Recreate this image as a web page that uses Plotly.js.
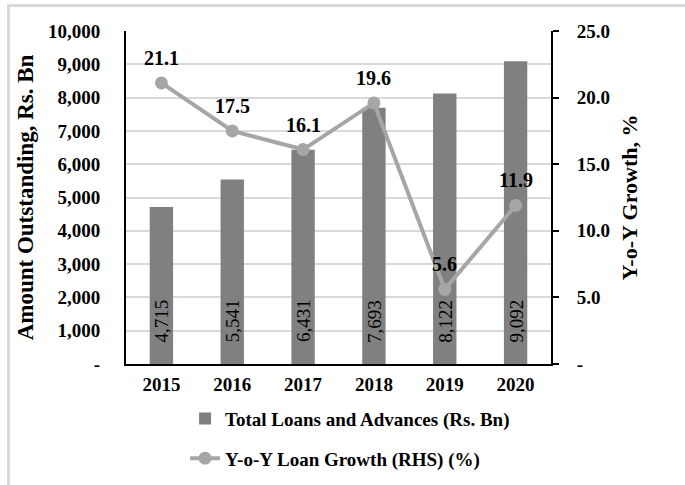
<!DOCTYPE html>
<html>
<head>
<meta charset="utf-8">
<script src="https://cdn.plot.ly/plotly-3.0.1.min.js"></script>
<style>
html,body{margin:0;padding:0;background:#fff;}
#wrap{position:relative;width:685px;height:485px;overflow:hidden;}
#frame{position:absolute;left:7px;top:4px;width:700px;height:500px;border-left:3px solid #d9d9d9;border-top:3px solid #d9d9d9;pointer-events:none;z-index:5;}
#chart{position:absolute;left:0;top:0;width:685px;height:485px;}
</style>
</head>
<body>
<div id="wrap"><div id="chart"></div><div id="frame"></div></div>
<script>
const years = [2015, 2016, 2017, 2018, 2019, 2020];
const loans = [4715, 5541, 6431, 7693, 8122, 9092];
const growth = [21.1, 17.5, 16.1, 19.6, 5.6, 11.9];
const leftTickVals = [0,1000,2000,3000,4000,5000,6000,7000,8000,9000,10000];
const leftTickText = ["-","1,000","2,000","3,000","4,000","5,000","6,000","7,000","8,000","9,000","10,000"];
const rightTickVals = [0,5,10,15,20,25];
const rightTickText = ["-","5.0","10.0","15.0","20.0","25.0"];

const FONT = "Liberation Serif, Times New Roman, serif";

const barTrace = {
  type: "bar",
  x: years,
  y: loans,
  name: "<b>Total Loans and Advances (Rs. Bn)</b>",
  marker: {color: "#808080"},
  width: 0.33,
  legendgroup: "a",
  hoverinfo: "skip"
};
const lineTrace = {
  type: "scatter",
  mode: "lines+markers",
  x: years,
  y: growth,
  yaxis: "y2",
  name: "<b>Y-o-Y Loan Growth (RHS) (%)</b>",
  line: {color: "#a6a6a6", width: 4},
  marker: {color: "#a6a6a6", size: 13},
  legendgroup: "b",
  hoverinfo: "skip"
};

const growthLabels = years.map((yr, i) => ({
  x: yr, y: growth[i], xref: "x", yref: "y2",
  text: "<b>" + growth[i].toFixed(1) + "</b>",
  showarrow: false, yshift: 25,
  font: {family: FONT, size: 20, color: "#000"}
}));
const loanLabels = years.map((yr, i) => ({
  x: yr, y: 0, xref: "x", yref: "y",
  text: loans[i].toLocaleString("en-US"),
  showarrow: false, textangle: -90, yshift: 43,
  xanchor: "center", yanchor: "middle",
  font: {family: FONT, size: 19, color: "#000"}
}));

const layout = {
  width: 685, height: 485,
  margin: {l: 126, r: 134, t: 31, b: 121, autoexpand: false},
  paper_bgcolor: "#fff", plot_bgcolor: "#fff",
  font: {family: FONT, color: "#000"},
  showlegend: true,
  legend: {
    orientation: "v", x: 0.139, xanchor: "left",
    yref: "container", y: 0.176, yanchor: "top",
    font: {family: FONT, size: 19, color: "#000"},
    traceorder: "grouped", tracegroupgap: 12
  },
  xaxis: {
    range: [2014.5, 2020.5],
    tickvals: years, ticktext: years.map(String),
    showline: true, linecolor: "#000", linewidth: 2,
    ticks: "", showgrid: false, zeroline: false,
    tickfont: {family: FONT, size: 19, color: "#000", weight: "bold"},
    ticklabelstandoff: 2
  },
  yaxis: {
    range: [0, 10000],
    tickvals: leftTickVals, ticktext: leftTickText,
    showline: true, linecolor: "#000", linewidth: 2,
    showgrid: true, gridcolor: "#d9d9d9", gridwidth: 2,
    zeroline: false, ticks: "",
    tickfont: {family: FONT, size: 19, color: "#000", weight: "bold"},
    ticklabelstandoff: 20,
    title: {text: "<b>Amount Outstanding, Rs. Bn</b>", font: {family: FONT, size: 23, color: "#000"}, standoff: 8}
  },
  yaxis2: {
    range: [0, 25], overlaying: "y", side: "right",
    tickvals: rightTickVals, ticktext: rightTickText,
    showline: true, linecolor: "#000", linewidth: 2,
    showgrid: false, zeroline: false,
    ticks: "outside", ticklen: 6, tickwidth: 2, tickcolor: "#000",
    tickfont: {family: FONT, size: 19, color: "#000", weight: "bold"},
    ticklabelstandoff: 14,
    title: {text: "<b>Y-o-Y Growth, %</b>", font: {family: FONT, size: 22, color: "#000"}, standoff: 13}
  },
  annotations: growthLabels.concat(loanLabels)
};

Plotly.newPlot("chart", [barTrace, lineTrace], layout, {displayModeBar: false, staticPlot: true});
</script>
</body>
</html>
